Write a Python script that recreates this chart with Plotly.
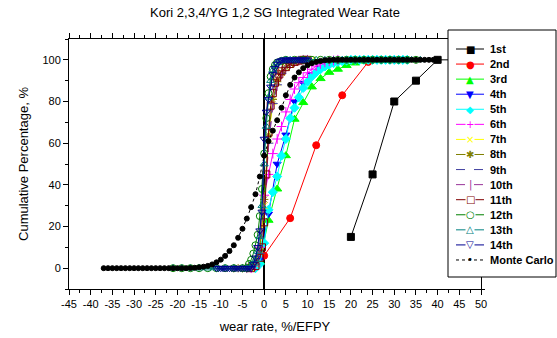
import plotly.graph_objects as go

# ---------------- data ----------------
names = ["1st", "2nd", "3rd", "4th", "5th", "6th", "7th", "8th", "9th", "10th",
         "11th", "12th", "13th", "14th", "Monte Carlo"]

x_tick_vals = [-45, -40, -35, -30, -25, -20, -15, -10, -5, 0, 5, 10, 15, 20, 25, 30, 35, 40, 45, 50]
x_tick_text = ["-45", "-40", "-35", "-30", "-25", "-20", "-15", "-10", "-5", "0", "5", "10",
               "15", "20", "25", "30", "35", "40", "45", "50"]
y_tick_vals = [0, 20, 40, 60, 80, 100]
y_tick_text = ["0", "20", "40", "60", "80", "100"]

s1_x = [20, 25, 30, 35, 40, 45]
s1_y = [15, 45, 80, 90, 100, 100]

s2_x = [0, 6, 12, 18, 24, 30]
s2_y = [6, 24, 59, 83, 99, 100]

s3_x = [-3, -1, 1, 3, 5, 7, 9, 11, 13, 15, 17, 19, 21, 23, 25]
s3_y = [0, 3, 23, 38, 54, 71.5, 79.5, 87, 91, 94, 95.5, 97.3, 98.5, 99.4, 100]

s4_x = [-1, 1, 3, 5, 7, 9, 11, 13, 15, 17, 19, 21]
s4_y = [4, 26, 50, 64, 80, 88.8, 93, 96, 98, 99.2, 99.7, 100]

s5_x = [-2, -1, 0, 1, 2, 3, 4, 5, 6, 7, 8, 9, 10, 11, 12, 13, 14, 15, 16, 17, 18, 19,
        20, 21, 22, 23, 24, 25, 26, 27, 28, 29, 30, 31, 32, 33]
s5_y = [0, 2, 12, 28, 36.5, 44, 54, 62, 72, 77, 82, 86.5, 89.5, 92, 94, 95.5, 96.8, 97.7,
        98.4, 99, 99.4, 99.7, 100, 100, 100, 100, 100, 100, 100, 100, 100, 100, 100, 100, 100, 100]

s6_x = [-3, -2, -1, 0, 1, 2, 3, 4, 5, 6, 7, 8, 9, 10, 11, 12, 13, 14, 15, 16, 17]
s6_y = [0, 1, 10, 35, 45, 55, 62, 68, 75, 81, 86, 89, 91.5, 93.8, 95.5, 97, 98, 98.8, 99.3, 99.7, 100]

s7_x = [-4, -3, -2, -1, 0, 1, 2, 3, 4, 5, 6, 7, 8, 9, 10, 11, 12]
s7_y = [0, 0, 2, 8, 30, 62, 80, 89, 94, 96.5, 98, 99, 99.6, 100, 100, 100, 100]

s8_x = [-7, -6, -5, -4, -3, -2, -1, 0, 1, 2, 3, 4, 5, 6, 7, 8, 9, 10]
s8_y = [0, 0, 0, 0, 1, 3, 9, 33, 64, 81, 89.5, 94, 96.5, 98, 99, 99.6, 100, 100]

s9_x = [-4, -3, -2, -1, 0, 1, 2, 3, 4, 5, 6, 7, 8, 9, 10]
s9_y = [0, 0.5, 2, 7, 26, 60, 79, 88, 93.5, 96.5, 98.2, 99.2, 99.7, 100, 100]

s10_x = [-4, -3, -2, -1, 0, 1, 2, 3, 4, 5, 6, 7, 8, 9, 10]
s10_y = [0, 1, 3, 9, 28, 58, 78, 87.5, 93, 96.2, 98, 99, 99.6, 100, 100]

s11_x = [-3, -2, -1, -0.5, 0, 0.5, 1, 1.5, 2, 2.5, 3, 3.5, 4, 5, 6, 7, 8, 9, 10]
s11_y = [0, 1, 5, 10, 22, 45, 65, 78, 84, 89, 91.5, 93, 94.5, 96.5, 98, 99, 99.6, 100, 100]

s12_x = [-21, -19, -17, -15, -13, -11, -9, -7, -5, -4, -3.5, -3, -2.5, -2, -1.5, -1, -0.5,
         0, 0.5, 1, 1.5, 2, 2.5, 3, 4, 5, 7, 9, 11, 13, 15, 17, 19, 21, 23, 25, 27, 29, 31, 33, 35]
s12_y = [0, 0, 0, 0, 0, 0, 0, 0, 0, 0, 2, 4, 7, 11, 16, 25, 38,
         55, 72, 84, 92, 95.5, 97.5, 98.7, 99.5, 100, 100, 100, 100, 100, 100, 100, 100, 100,
         100, 100, 100, 100, 100, 100, 100]

s13_x = [-21, -19, -17, -15, -13, -11, -9, -7, -5, -4, -3, -2.5, -2, -1.5, -1, -0.5, 0, 0.5,
         1, 1.5, 2, 3, 4, 5, 6, 8, 10, 12, 14, 16, 18, 20, 22, 24, 26, 28, 30, 32, 34, 36]
s13_y = [0, 0, 0, 0, 0, 0, 0, 0, 0, 0, 1, 2, 4, 8, 15, 30, 50, 68,
         82, 90, 95, 98.5, 99.6, 100, 100, 100, 100, 100, 100, 100, 100, 100, 100, 100,
         100, 100, 100, 100, 100, 100]

s14_x = [-11, -10.5, -10, -9.5, -9, -8.5, -8, -7.5, -7, -6.5, -6, -5.5, -5, -4.5, -4, -3.5, -3,
         -2.5, -2, -1.5, -1, -0.5, 0, 0.5, 1, 1.5, 2, 2.5, 3, 3.5, 4, 4.5,
         5, 5.5, 6, 6.5, 7, 7.5, 8, 8.5, 9, 9.5, 10]
s14_y = [0, 0, 0, 0, 0, 0, 0, 0, 0, 0, 0, 0, 0, 0, 0, 0, 0,
         2, 5, 10, 18, 27, 62, 75, 81, 87, 93, 96, 98, 99.2, 99.7, 100,
         100, 100, 100, 100, 100, 100, 100, 100, 100, 100, 100]

mc_x = [-37, -36, -35, -34, -33, -32, -31, -30, -29, -28, -27, -26, -25, -24, -23, -22, -21,
        -20, -19, -18, -17, -16, -15, -14, -13, -12, -11, -10, -9, -8, -7, -6, -5, -4, -3,
        -2, -1, 0, 1, 2, 3, 4, 5, 6, 7, 8, 9, 10, 11, 12, 13, 14, 15, 16, 17, 18, 19, 20,
        21, 22, 23, 24, 25, 26, 27, 28, 29, 30, 31, 32, 33, 34, 35, 36, 37, 38, 39, 40]
mc_y = [0, 0, 0, 0, 0, 0, 0, 0, 0, 0, 0, 0, 0, 0, 0, 0, 0, 0, 0, 0,
        0.1, 0.2, 0.4, 0.7, 1.1, 1.8, 2.8, 4.1, 5.9, 8.2, 11, 14.6, 18.9, 23.8, 29.3, 35.5,
        44, 54, 61, 66, 71, 77, 83, 88, 91.5, 94, 96, 97.4, 98.4, 99, 99.5, 99.8, 99.9,
        100, 100, 100, 100, 100, 100, 100, 100, 100, 100, 100, 100, 100, 100, 100, 100,
        100, 100, 100, 100, 100, 100, 100, 100, 100, 100]

series_x = [s1_x, s2_x, s3_x, s4_x, s5_x, s6_x, s7_x, s8_x, s9_x, s10_x, s11_x, s12_x, s13_x, s14_x, mc_x]
series_y = [s1_y, s2_y, s3_y, s4_y, s5_y, s6_y, s7_y, s8_y, s9_y, s10_y, s11_y, s12_y, s13_y, s14_y, mc_y]

# ---------------- styles ----------------
colors = ["#000000", "#FF0000", "#00FF00", "#0000FF", "#00FFFF", "#FF00FF", "#FFFF00",
          "#808000", "#4040A0", "#993399", "#800000", "#008000", "#008080", "#000090", "#000000"]
symbols = ["square", "circle", "triangle-up", "triangle-down", "diamond", "cross-thin-open",
           "x-thin-open", "asterisk-open", "line-ew-open", "line-ns-open", "square-open",
           "circle-open", "triangle-up-open", "triangle-down-open", "circle"]
sizes = [7, 7, 8, 7, 7, 7, 7, 7, 7, 7, 7, 7, 7, 7, 5]
dashes = ["solid"] * 8 + ["dash", "dash"] + ["solid"] * 4 + ["dot"]
glyphs = ["■", "●", "▲", "▼", "◆", "+", "×", "✱", "", "|", "□", "○", "△", "▽", "•"]

fig = go.Figure()
for i in range(len(names)):
    c = colors[i]
    fig.add_trace(go.Scatter(
        x=series_x[i], y=series_y[i], mode="lines+markers", name=names[i],
        line=dict(color=c, width=1, dash=dashes[i]),
        marker=dict(symbol=symbols[i], size=sizes[i], color=c,
                    line=dict(color=c, width=1)),
        showlegend=False, cliponaxis=True,
    ))

W, H = 557, 338
PL, PR, PT, PB = 69, 481, 39, 289


def pxx(px):
    return (px - PL) / (PR - PL)


def pxy(py):
    return (PB - py) / (PB - PT)


shapes = []
annotations = []
# legend box
shapes.append(dict(type="rect", xref="paper", yref="paper",
                   x0=pxx(448), x1=pxx(556), y0=pxy(277), y1=pxy(30),
                   fillcolor="white", line=dict(color="black", width=1), layer="above"))
for i, nm in enumerate(names):
    py = 49 + i * 15.07
    shapes.append(dict(type="line", xref="paper", yref="paper",
                       x0=pxx(456), x1=pxx(484), y0=pxy(py), y1=pxy(py),
                       line=dict(color=colors[i], width=1, dash=dashes[i]), layer="above"))
    if glyphs[i]:
        annotations.append(dict(xref="paper", yref="paper", x=pxx(470), y=pxy(py),
                                text=glyphs[i], showarrow=False, xanchor="center", yanchor="middle",
                                font=dict(family="DejaVu Sans", size=10, color=colors[i]),
                                bgcolor="white" if "open" in symbols[i] else None,
                                borderpad=0))
    annotations.append(dict(xref="paper", yref="paper", x=pxx(488), y=pxy(py),
                            text="<b>" + nm + "</b>", showarrow=False, xanchor="left", yanchor="middle",
                            font=dict(family="Liberation Sans, Arial", size=11, color="black")))

axis_font = dict(family="Liberation Sans, Arial", size=11, color="black")
fig.update_layout(
    width=W, height=H,
    margin=dict(l=PL, r=W - PR, t=PT, b=H - PB, autoexpand=False),
    paper_bgcolor="white", plot_bgcolor="white",
    title=dict(text="Kori 2,3,4/YG 1,2 SG Integrated Wear Rate", x=pxx(275), xref="paper",
               xanchor="center", y=1 - 12 / H, yanchor="middle",
               font=dict(family="Liberation Sans, Arial", size=13, color="black")),
    shapes=shapes, annotations=annotations,
    xaxis=dict(range=[-45, 50], tickmode="array", tickvals=x_tick_vals, ticktext=x_tick_text,
               ticks="outside", ticklen=5, tickwidth=1, tickcolor="black",
               minor=dict(dtick=2.5, tick0=-45, ticks="outside", ticklen=3, tickcolor="black"),
               showline=True, linecolor="black", linewidth=1, mirror="ticks",
               showgrid=False, zeroline=True, zerolinecolor="black", zerolinewidth=1.5,
               tickfont=axis_font, ticklabelstandoff=0, automargin=False,
               title=dict(text="wear rate, %/EFPY", standoff=12,
                          font=dict(family="Liberation Sans, Arial", size=13, color="black"))),
    yaxis=dict(range=[-10, 110], tickmode="array", tickvals=y_tick_vals, ticktext=y_tick_text,
               ticks="outside", ticklen=5, tickwidth=1, tickcolor="black",
               minor=dict(dtick=10, tick0=0, ticks="outside", ticklen=3, tickcolor="black"),
               showline=True, linecolor="black", linewidth=1, mirror="ticks",
               showgrid=False, zeroline=False, tickfont=axis_font, automargin=False,
               title=dict(text="Cumulative Percentage, %", standoff=10,
                          font=dict(family="Liberation Sans, Arial", size=13, color="black"))),
)

fig.write_html("out.html", config={"displayModeBar": False},
               post_script="document.body.style.margin='0';document.body.style.overflow='hidden';")
